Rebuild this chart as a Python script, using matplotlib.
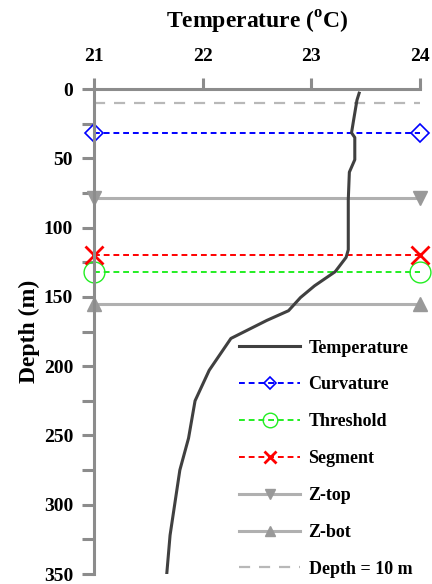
import matplotlib
matplotlib.use('Agg')
import matplotlib.pyplot as plt
from matplotlib.ticker import MultipleLocator

plt.rcParams['font.family'] = 'Liberation Serif'
plt.rcParams['font.weight'] = 'bold'
plt.rcParams['mathtext.fontset'] = 'custom'
plt.rcParams['mathtext.rm'] = 'Liberation Serif:bold'

# temperature profile
depth = [3, 8, 22, 31.6, 35, 51, 60, 80, 107, 116, 121.5, 131.8, 142, 150.5, 160,
         167, 180, 203, 225, 252, 275, 322, 349.5]
temp = [23.44, 23.42, 23.39, 23.37, 23.40, 23.40, 23.35, 23.34, 23.34, 23.34, 23.32,
        23.22, 23.03, 22.90, 22.79, 22.59, 22.26, 22.06, 21.93, 21.87, 21.79, 21.70, 21.67]

# detected depths (m)
curvature_depth = 32
threshold_depth = 132
segment_depth = 120
ztop_depth = 79
zbot_depth = 155
ref_depth = 10

xlim = [21, 24]

fig = plt.figure(figsize=(4.32, 5.84), dpi=100)
ax = fig.add_axes([0.2176, 0.0171, 0.7546, 0.8305])

spine_col = '#8c8c8c'

ax.plot(temp, depth, color='#404040', lw=2.2, label='Temperature', zorder=5)
ax.plot(xlim, [curvature_depth] * 2, color='#0000ff', ls=(0, (3, 2)), lw=1.4,
        marker='D', ms=9, mfc='none', mec='#0000ff', mew=1.2, clip_on=False,
        label='Curvature', zorder=4)
ax.plot(xlim, [threshold_depth] * 2, color='#22ee22', ls=(0, (3, 2)), lw=1.4,
        marker='o', ms=15, mfc='none', mec='#22ee22', mew=1.0, clip_on=False,
        label='Threshold', zorder=4)
ax.plot(xlim, [segment_depth] * 2, color='#ff0000', ls=(0, (3, 2)), lw=1.4,
        marker='x', ms=13, mew=2.0, clip_on=False, label='Segment', zorder=4)
ax.plot(xlim, [ztop_depth] * 2, color='#b0b0b0', lw=2.2, marker='v', ms=10,
        mfc='#999999', mec='#999999', clip_on=False, label='Z-top', zorder=3)
ax.plot(xlim, [zbot_depth] * 2, color='#b0b0b0', lw=2.2, marker='^', ms=10,
        mfc='#999999', mec='#999999', clip_on=False, label='Z-bot', zorder=3)
ax.plot(xlim, [ref_depth] * 2, color='#b8b8b8', ls=(0, (5, 4)), lw=1.6,
        label='Depth = 10 m', zorder=2)

ax.set_xlim(21, 24)
ax.set_ylim(350, 0)
ax.xaxis.tick_top()
ax.xaxis.set_label_position('top')
ax.set_xticks([21, 22, 23, 24])
ax.yaxis.set_major_locator(MultipleLocator(50))
ax.yaxis.set_minor_locator(MultipleLocator(25))

for s in ['right', 'bottom']:
    ax.spines[s].set_visible(False)
for s in ['left', 'top']:
    ax.spines[s].set_color(spine_col)
    ax.spines[s].set_linewidth(2.2)
    ax.spines[s].set_zorder(6)

ax.tick_params(axis='x', which='major', direction='out', length=8, width=2.2,
               color=spine_col, labelsize=14, pad=9)
ax.tick_params(axis='y', which='both', direction='out', length=9, width=2.2,
               color=spine_col, labelsize=14, pad=6)

ax.set_xlabel('Temperature ($^{\\mathrm{o}}$C)', fontsize=17, fontweight='bold', labelpad=14)
ax.set_ylabel('Depth (m)', fontsize=17, fontweight='bold', labelpad=3)

ax.legend(loc='lower left', bbox_to_anchor=(0.524, -0.011), bbox_transform=fig.transFigure,
          frameon=False, numpoints=1, fontsize=13, handlelength=3.4, markerscale=0.7,
          handletextpad=0.45, labelspacing=1.1, borderpad=0.2)

fig.savefig('out.png', dpi=100)
